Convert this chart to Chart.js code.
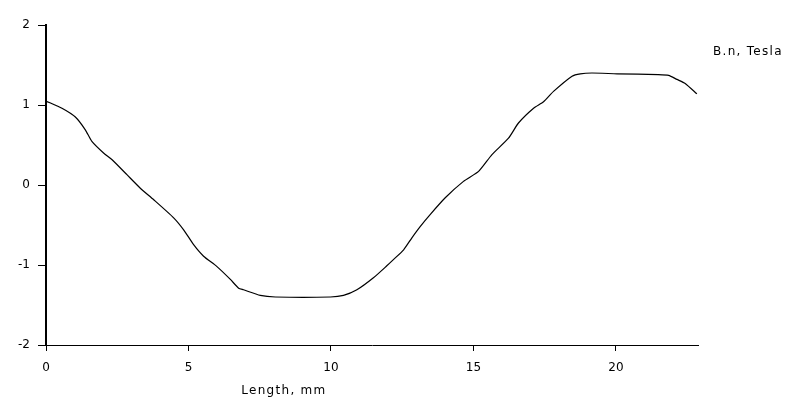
<!DOCTYPE html>
<html>
<head>
<meta charset="utf-8">
<script src="https://cdn.jsdelivr.net/npm/chart.js@4"></script>
<style>
html,body{margin:0;padding:0;background:#fff;}
#wrap{width:799px;height:411px;position:relative;}
</style>
</head>
<body>
<div id="wrap"><canvas id="c" width="799" height="411"></canvas></div>
<script>
const lengthMm = [0, 0.56, 1.03, 1.38, 1.61, 2.02, 2.32, 2.84, 3.31, 3.78, 4.48, 4.83, 5.18, 5.53, 6.0, 6.47, 6.76, 6.93, 7.52, 8.05, 9.98, 10.44, 10.91, 11.49, 11.96, 12.2, 12.55, 12.84, 13.13, 13.48, 14.01, 14.65, 15.18, 15.65, 16.23, 16.58, 17.11, 17.46, 17.81, 18.46, 18.75, 19.16, 20.04, 21.49, 21.85, 22.14, 22.43, 22.84];
const bnTesla = [1.05, 0.96, 0.85, 0.69, 0.545, 0.40, 0.316, 0.129, -0.04, -0.184, -0.41, -0.56, -0.746, -0.89, -1.02, -1.18, -1.29, -1.31, -1.38, -1.40, -1.40, -1.38, -1.31, -1.16, -1.01, -0.93, -0.81, -0.66, -0.52, -0.37, -0.16, 0.045, 0.17, 0.38, 0.585, 0.775, 0.96, 1.04, 1.17, 1.36, 1.39, 1.40, 1.39, 1.38, 1.37, 1.32, 1.27, 1.14];
const xTitle = "Length, mm";
const yTitle = "B.n, Tesla";

const points = lengthMm.map((x, i) => ({x: x, y: bnTesla[i]}));
const FONT = "DejaVu Sans";

const titlesPlugin = {
  id: 'axisTitles',
  afterDraw(chart) {
    const ctx = chart.ctx;
    ctx.save();
    ctx.fillStyle = '#000';
    ctx.font = '12px "' + FONT + '"';
    if ('letterSpacing' in ctx) ctx.letterSpacing = '1.3px';
    ctx.textBaseline = 'middle';
    ctx.textAlign = 'left';
    const xs = chart.scales.x;
    ctx.fillText(xTitle, xs.getPixelForValue(6.85), 391);
    ctx.fillText(yTitle, chart.chartArea.right + 15, 52);
    ctx.restore();
  }
};

new Chart(document.getElementById('c'), {
  type: 'scatter',
  data: {
    datasets: [{
      data: points,
      showLine: true,
      borderColor: '#000',
      borderWidth: 1.2,
      pointRadius: 0,
      tension: 0.2,
      fill: false
    }]
  },
  options: {
    responsive: false,
    animation: false,
    events: [],
    layout: {padding: {left: 0, top: 25, right: 101, bottom: 0}},
    plugins: {legend: {display: false}, tooltip: {enabled: false}, title: {display: false}},
    scales: {
      x: {
        type: 'linear',
        min: 0,
        max: 22.88,
        border: {display: true, color: '#000', width: 1},
        grid: {drawOnChartArea: false, drawTicks: true, tickLength: 6, color: '#000'},
        ticks: {stepSize: 5, includeBounds: false, color: '#000', padding: 10, font: {family: FONT, size: 12}, maxRotation: 0},
        afterFit: s => { s.height = 66; }
      },
      y: {
        type: 'linear',
        min: -2,
        max: 2,
        border: {display: true, color: '#000', width: 2},
        grid: {drawOnChartArea: false, drawTicks: true, tickLength: 8, color: '#000'},
        ticks: {stepSize: 1, color: '#000', padding: 8, font: {family: FONT, size: 12}},
        afterFit: s => { s.width = 46; }
      }
    }
  },
  plugins: [titlesPlugin]
});
</script>
</body>
</html>
